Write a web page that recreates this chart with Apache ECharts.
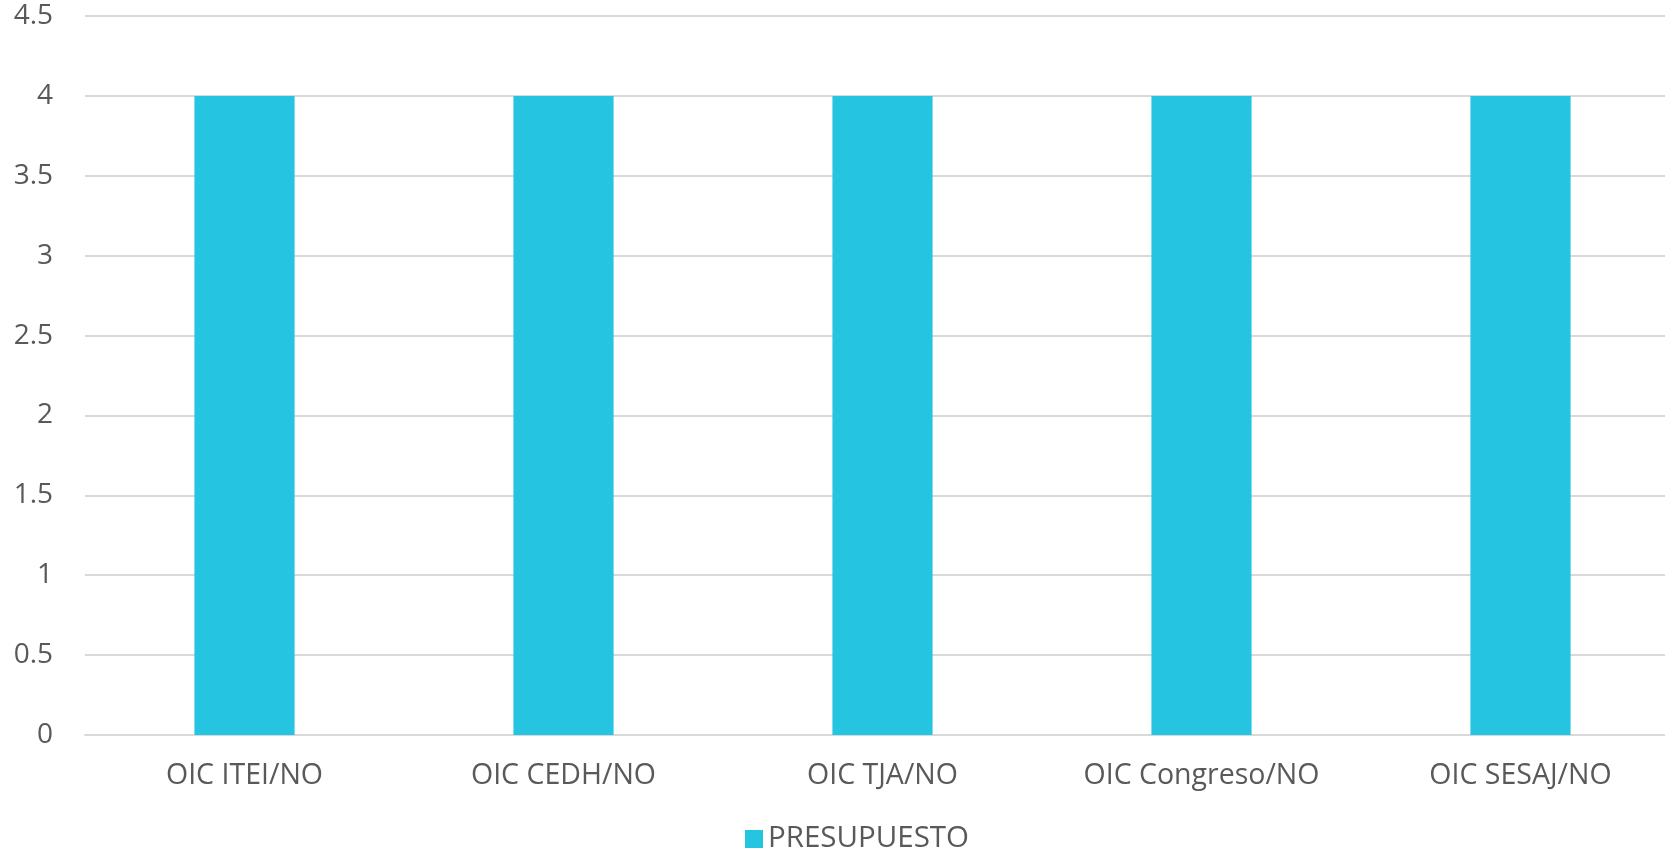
<!DOCTYPE html>
<html><head><meta charset="utf-8">
<script src="https://cdn.jsdelivr.net/npm/echarts@6/dist/echarts.min.js"></script>
<style>html,body{margin:0;padding:0;background:#fff}#c{width:1665px;height:852px}</style>
</head><body><div id="c"></div>
<script>
const categories = ['OIC ITEI/NO', 'OIC CEDH/NO', 'OIC TJA/NO', 'OIC Congreso/NO', 'OIC SESAJ/NO'];
const seriesName = 'PRESUPUESTO';
const values = [4, 4, 4, 4, 4];
const yMin = 0, yMax = 4.5, yStep = 0.5;

const chart = echarts.init(document.getElementById('c'));
const font = '"Open Sans", sans-serif';
chart.setOption({
  animation: false,
  textStyle: { fontFamily: font },
  grid: { left: 85, width: 1595, top: 16, height: 719, containLabel: false, outerBoundsMode: 'none' },
  legend: {
    data: [seriesName], left: 740, top: 819, itemWidth: 18, itemHeight: 18, itemGap: 9,
    icon: 'rect',
    textStyle: { color: '#595959', fontSize: 29.5, fontFamily: font }
  },
  xAxis: {
    type: 'category', data: categories,
    axisLine: { show: true, lineStyle: { color: '#d9d9d9', width: 2 } },
    axisTick: { show: false },
    axisLabel: { color: '#595959', fontSize: 28.5, margin: 26, fontFamily: font }
  },
  yAxis: {
    type: 'value', min: yMin, max: yMax, interval: yStep,
    axisLine: { show: false }, axisTick: { show: false },
    splitLine: { lineStyle: { color: '#d9d9d9', width: 2 } },
    axisLabel: { color: '#595959', fontSize: 28, margin: 32, fontFamily: font }
  },
  series: [{
    name: seriesName, type: 'bar', data: values, barWidth: '31.4%',
    itemStyle: { color: '#25C5E2' }
  }]
});
</script></body></html>
